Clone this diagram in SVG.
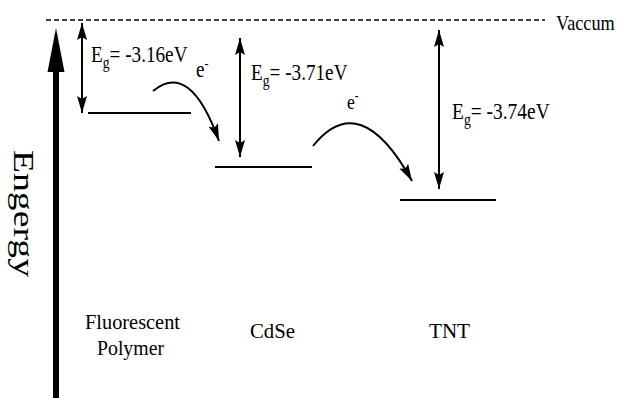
<svg xmlns="http://www.w3.org/2000/svg" width="623" height="398" viewBox="0 0 623 398" font-family="'Liberation Serif', 'Times New Roman', serif">
<style>
text{font-family:"Liberation Serif","Times New Roman",serif;fill:#000}
.lvl{stroke:#000;stroke-width:2;fill:none}
.dbl{stroke:#000;stroke-width:2;fill:none;marker-start:url(#headS);marker-end:url(#headE)}
.hop{stroke:#000;stroke-width:2;fill:none;marker-end:url(#headE)}
</style>
<defs>
<marker id="headE" viewBox="0 0 17 10" refX="17" refY="5" markerWidth="17" markerHeight="10" markerUnits="userSpaceOnUse" orient="auto">
<path d="M0,0 L17,5 L0,10 L3,5 Z" fill="#000"/>
</marker>
<marker id="headS" viewBox="0 0 17 10" refX="0" refY="5" markerWidth="17" markerHeight="10" markerUnits="userSpaceOnUse" orient="auto">
<path d="M17,0 L0,5 L17,10 L14,5 Z" fill="#000"/>
</marker>
</defs>
<rect width="623" height="398" fill="#fff"/>

<g id="vacuum">
<line x1="46" y1="20" x2="545" y2="20" stroke="#000" stroke-width="1.6" stroke-dasharray="5,3"/>
<text transform="translate(556,30) scale(0.83,1)" font-size="22">Vaccum</text>
</g>

<g id="energy-axis">
<rect x="53" y="70" width="6" height="328" fill="#000"/>
<polygon points="56,28 64.5,72 47.5,72" fill="#000"/>
<text transform="translate(14,150) rotate(90)" font-size="30" textLength="127" lengthAdjust="spacingAndGlyphs">Engergy</text>
</g>

<g id="polymer">
<line class="lvl" x1="88" y1="113" x2="191" y2="113"/>
<text transform="translate(91,62) scale(0.8,1)" font-size="24">E<tspan font-size="17" dy="6">g</tspan><tspan dy="-6">= -3.16eV</tspan></text>
<text x="85" y="329" font-size="21" textLength="95" lengthAdjust="spacingAndGlyphs">Fluorescent</text>
<text x="97" y="355" font-size="21" textLength="67" lengthAdjust="spacingAndGlyphs">Polymer</text>
</g>

<g id="cdse">
<line class="lvl" x1="215" y1="167" x2="312" y2="167"/>
<text transform="translate(251,80) scale(0.8,1)" font-size="24">E<tspan font-size="17" dy="6">g</tspan><tspan dy="-6">= -3.71eV</tspan></text>
<text x="250" y="338" font-size="22" textLength="45" lengthAdjust="spacingAndGlyphs">CdSe</text>
</g>

<g id="tnt">
<line class="lvl" x1="400" y1="200" x2="496" y2="200"/>
<text transform="translate(452,119) scale(0.81,1)" font-size="24">E<tspan font-size="17" dy="6">g</tspan><tspan dy="-6">= -3.74eV</tspan></text>
<text x="429" y="338" font-size="22" textLength="41" lengthAdjust="spacingAndGlyphs">TNT</text>
</g>

<g id="connectors">
<line class="dbl" x1="82" y1="23" x2="82" y2="113"/>
<line class="dbl" x1="240" y1="38" x2="240" y2="157"/>
<line class="dbl" x1="439" y1="30" x2="439" y2="189"/>
<path class="hop" d="M153,91 Q190,60 219,141"/>
<path class="hop" d="M313,146 Q360,87 412,181"/>
</g>

<g id="electron-labels">
<text transform="translate(196,77) scale(0.8,1)" font-size="24">e<tspan font-size="15" dy="-9">-</tspan></text>
<text transform="translate(347,109) scale(0.8,1)" font-size="22">e<tspan font-size="14" dy="-9">-</tspan></text>
</g>
</svg>
